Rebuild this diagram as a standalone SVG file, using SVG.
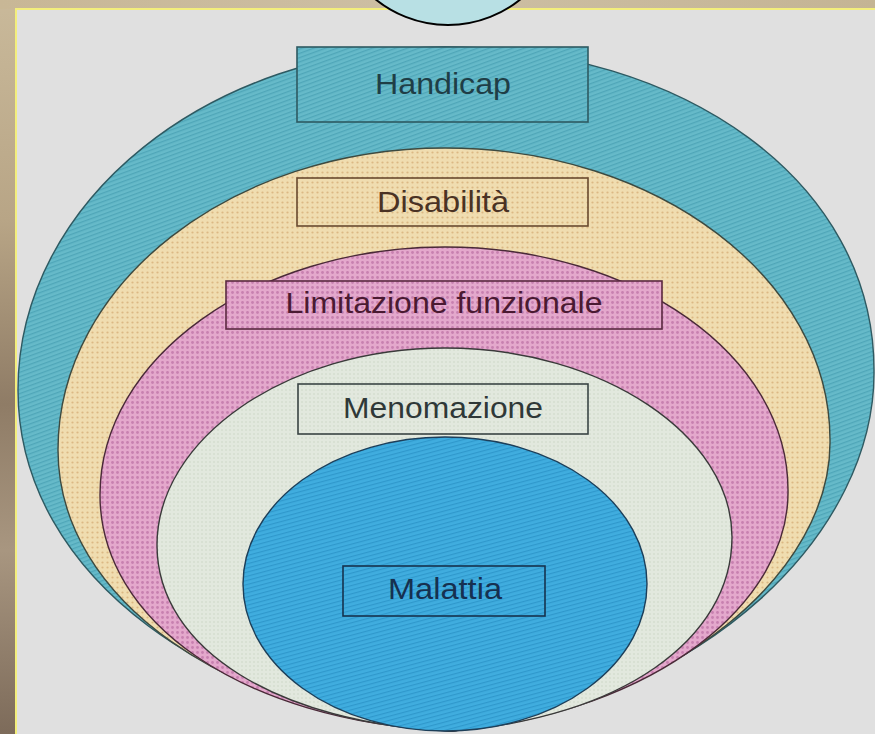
<svg xmlns="http://www.w3.org/2000/svg" width="875" height="734" viewBox="0 0 875 734">
  <defs>
    <linearGradient id="leftStrip" x1="0" y1="0" x2="0" y2="1">
      <stop offset="0" stop-color="#c9b99a"/>
      <stop offset="0.3" stop-color="#b8a586"/>
      <stop offset="0.55" stop-color="#8f7c66"/>
      <stop offset="0.75" stop-color="#a89680"/>
      <stop offset="1" stop-color="#7d6b5a"/>
    </linearGradient>
    <linearGradient id="topStrip" x1="0" y1="0" x2="1" y2="0">
      <stop offset="0" stop-color="#c8b796"/>
      <stop offset="0.5" stop-color="#cdbfa4"/>
      <stop offset="1" stop-color="#c4b494"/>
    </linearGradient>
    <pattern id="hatchTeal" width="4" height="4" patternUnits="userSpaceOnUse" patternTransform="rotate(-20)">
      <rect width="4" height="4" fill="#66bac9"/>
      <rect width="4" height="1.3" fill="#4fa6b8"/>
    </pattern>
    <pattern id="dotTan" width="5" height="5" patternUnits="userSpaceOnUse">
      <rect width="5" height="5" fill="#f0ddb0"/>
      <circle cx="2.5" cy="2.5" r="1.1" fill="#dcb884"/>
    </pattern>
    <pattern id="dotPink" width="5" height="5" patternUnits="userSpaceOnUse">
      <rect width="5" height="5" fill="#e4a8cc"/>
      <circle cx="2.5" cy="2.5" r="1.4" fill="#c880b0"/>
    </pattern>
    <pattern id="dotMeno" width="4" height="4" patternUnits="userSpaceOnUse">
      <rect width="4" height="4" fill="#e2e8de"/>
      <circle cx="2" cy="2" r="0.8" fill="#cdd6c6"/>
    </pattern>
    <pattern id="hatchBlue" width="4" height="4" patternUnits="userSpaceOnUse" patternTransform="rotate(-15)">
      <rect width="4" height="4" fill="#40addf"/>
      <rect width="4" height="1.2" fill="#2f98cc"/>
    </pattern>
    <style>
      .lbl { font-family: "Liberation Sans", Arial, sans-serif; font-size: 29px; text-anchor: middle; }
      .shape { stroke-width: 1.4; }
      .box { stroke-width: 1.6; }
    </style>
  </defs>

  <!-- scanned background -->
  <rect x="0" y="0" width="875" height="734" fill="#dfdfdf"/>
  <rect x="0" y="0" width="16" height="734" fill="url(#leftStrip)"/>
  <rect x="0" y="0" width="875" height="9" fill="url(#topStrip)"/>
  <rect x="16" y="9" width="870" height="740" fill="#e0e0e0" stroke="#f3ee7c" stroke-width="2"/>

  <!-- decorative top circle -->
  <circle cx="448" cy="-90" r="115" fill="#b8e0e4" stroke="#000" stroke-width="2"/>

  <g id="handicap">
    <path class="shape" fill="url(#hatchTeal)" stroke="#2e5a62"
      d="M 18 390 C 18 201 209 47 445 47 C 682 47 874 181 874 370 C 876 530 710 700 452 731 C 220 715 18 580 18 390 Z"/>
  </g>
  <g id="disabilita">
    <path class="shape" fill="url(#dotTan)" stroke="#3d4a40"
      d="M 58 450 C 58 283 232 148 445 148 C 658 148 830 279 830 440 C 832 570 680 705 452 731 C 230 718 58 600 58 450 Z"/>
  </g>
  <g id="limitazione">
    <path class="shape" fill="url(#dotPink)" stroke="#4a2a38"
      d="M 100 495 C 100 358 255 247 445 247 C 634 247 788 355 788 490 C 790 600 660 712 452 731 C 240 722 100 620 100 495 Z"/>
  </g>
  <g id="menomazione">
    <path class="shape" fill="url(#dotMeno)" stroke="#3a3a3a"
      d="M 157 545 C 157 439 286 348 445 348 C 603 348 732 436 732 537 C 732 640 620 718 452 731 C 280 724 157 650 157 545 Z"/>
  </g>
  <g id="malattia">
    <ellipse class="shape" cx="445" cy="584" rx="202" ry="147" fill="url(#hatchBlue)" stroke="#1d3f5a"/>
  </g>

  <!-- labels -->
  <g id="label-handicap">
    <rect class="box" x="297" y="47" width="291" height="75" fill="url(#hatchTeal)" stroke="#2e5a62"/>
    <text class="lbl" x="443" y="94" fill="#1f3e46" textLength="136" lengthAdjust="spacingAndGlyphs">Handicap</text>
  </g>
  <g id="label-disabilita">
    <rect class="box" x="297" y="178" width="291" height="48" fill="url(#dotTan)" stroke="#6a4a30"/>
    <text class="lbl" x="443" y="212" fill="#4a3224" textLength="132" lengthAdjust="spacingAndGlyphs">Disabilità</text>
  </g>
  <g id="label-limitazione">
    <rect class="box" x="226" y="281" width="436" height="48" fill="url(#dotPink)" stroke="#5a2a40"/>
    <text class="lbl" x="444" y="313" fill="#4a1a32" textLength="317" lengthAdjust="spacingAndGlyphs">Limitazione funzionale</text>
  </g>
  <g id="label-menomazione">
    <rect class="box" x="298" y="384" width="290" height="50" fill="url(#dotMeno)" stroke="#3a4444"/>
    <text class="lbl" x="443" y="418" fill="#2f3838" textLength="200" lengthAdjust="spacingAndGlyphs">Menomazione</text>
  </g>
  <g id="label-malattia">
    <rect class="box" x="343" y="566" width="202" height="50" fill="url(#hatchBlue)" stroke="#16324e"/>
    <text class="lbl" x="445" y="599" fill="#163050" textLength="114" lengthAdjust="spacingAndGlyphs">Malattia</text>
  </g>
</svg>
